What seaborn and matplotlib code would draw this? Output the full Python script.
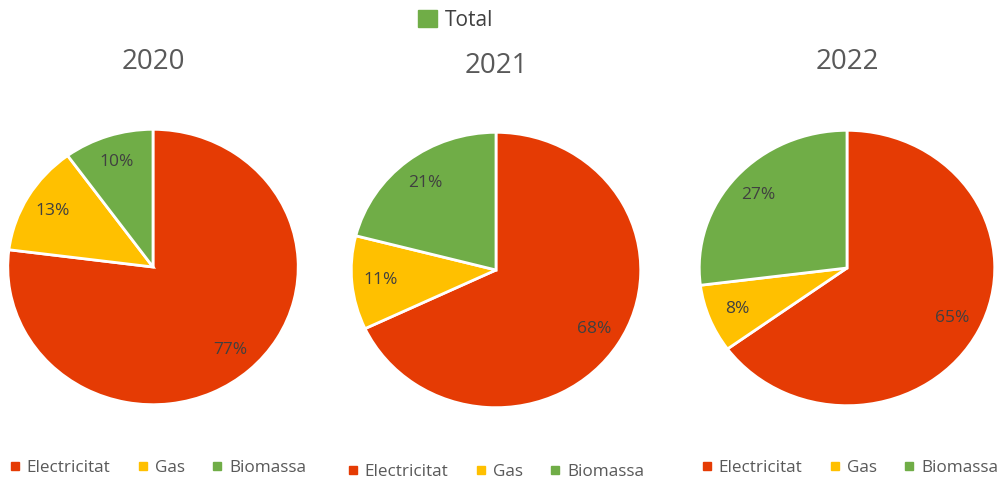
import numpy as np
import pandas as pd
import matplotlib.pyplot as plt
import seaborn as sns
from matplotlib.lines import Line2D
from matplotlib.patches import Patch

# dades
anys = ["2020", "2021", "2022"]
fonts = ["Electricitat", "Gas", "Biomassa"]
electricitat = [77, 68, 65]
gas = [13, 11, 8]
biomassa = [10, 21, 27]

sns.set_theme(style="white")
plt.rcParams["font.family"] = ["Open Sans", "DejaVu Sans"]

colors = sns.color_palette(["#E53B04", "#FFC000", "#70AD47"])
df = pd.DataFrame({"Electricitat": electricitat, "Gas": gas, "Biomassa": biomassa}, index=anys)

fig = plt.figure(figsize=(10.01, 4.83), dpi=100)
W, H = 1001, 483

# posicions en píxels (centre x, top y, amplada, alçada del pastís)
pos = [(153, 130, 289, 274), (496, 133, 288, 274), (847, 131, 294, 274)]
title_y = [62, 66, 62]
legend_x = [158, 496, 850]
legend_y = [468, 472, 468]

for i, any_ in enumerate(anys):
    cx, ty, w, h = pos[i]
    ax = fig.add_axes([(cx - w / 2) / W, (H - ty - h) / H, w / W, h / H])
    vals = df.loc[any_].values
    ax.pie(vals, colors=colors, startangle=90, counterclock=False,
           autopct="%1.0f%%", pctdistance=0.8,
           wedgeprops=dict(edgecolor="white", linewidth=2),
           textprops=dict(color="#404040", fontsize=12.5))
    ax.set_aspect("auto")
    ax.set_xlim(-0.995, 0.995)
    ax.set_ylim(-0.995, 0.995)
    fig.text(cx / W, 1 - title_y[i] / H, any_, ha="center", va="center",
             fontsize=20, color="#595959")
    handles = [Line2D([], [], marker="s", linestyle="", markersize=6,
                      color=c) for c in colors]
    fig.legend(handles, fonts, loc="center",
               bbox_to_anchor=(legend_x[i] / W, 1 - legend_y[i] / H),
               ncol=3, frameon=False, handlelength=0.6, handletextpad=0.4,
               columnspacing=1.6, fontsize=12.3, labelcolor="#595959")

fig.legend([Patch(color="#70AD47")], ["Total"], loc="center",
           bbox_to_anchor=(456 / W, 1 - 20 / H), frameon=False,
           handlelength=0.9, handleheight=0.9, handletextpad=0.4,
           fontsize=15, labelcolor="#404040")

fig.savefig("out.png", dpi=100)
